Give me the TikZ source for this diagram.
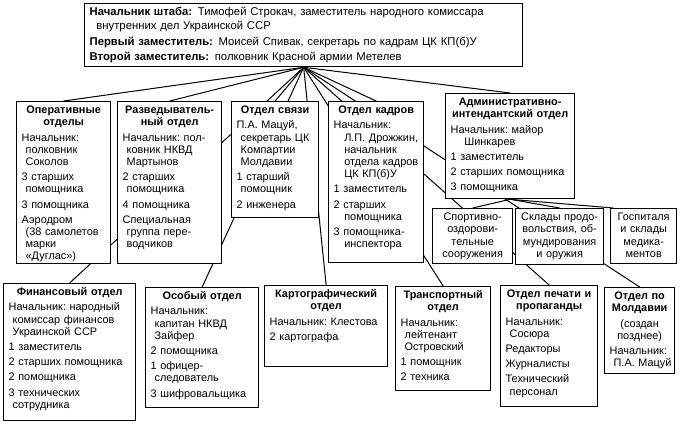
\documentclass[tikz,border=0pt]{standalone}
\usepackage{fontspec}
\setmainfont{Liberation Sans}
\usetikzlibrary{backgrounds}

\tikzset{
  dept/.style={draw, line width=1.3pt, fill=white, anchor=north west, align=left,
    inner xsep=5pt, inner ysep=3pt, text height=9pt,
    font=\fontsize{10.9}{12.2}\selectfont},
  sub/.style={dept, align=center, inner xsep=3pt},
  link/.style={line width=1pt},
}
\newcommand{\ttl}[1]{{\centering\bfseries #1\par}\vspace{3pt}}
\newcommand{\ind}[1][4pt]{\hspace*{#1}}

\begin{document}
\begin{tikzpicture}[x=1pt,y=-1pt]
        \useasboundingbox (0,0) rectangle (684,423);
        % chief of staff
        \node[dept, text width=428pt, text depth=48pt, font=\fontsize{11.3}{14}\selectfont] (top) at (84,3) {\textbf{Начальник штаба:} Тимофей Строкач, заместитель народного комиссара\\\ind[3pt] внутренних дел Украинской ССР\\[2pt]\textbf{Первый заместитель:} Моисей Спивак, секретарь по кадрам ЦК КП(б)У\\[1pt]\textbf{Второй заместитель:} полковник Красной армии Метелев};
        \coordinate (hub) at (top.south);
        % upper row
        \node[dept, text width=84pt, text depth=147pt] (oper) at (16,101) {\ttl{Оперативные\\отделы}Начальник:\\\ind полковник\\\ind Соколов\\[3pt]3~старших\\\ind помощника\\[3pt]3~помощника\\[3pt]Аэродром\\\ind (38~самолетов\\\ind марки\\\ind «Дуглас»)};
        \node[dept, text width=94pt, text depth=147pt] (razv) at (117,101) {\ttl{Разведыватель-\\ный отдел}Начальник:~пол-\\\ind ковник~НКВД\\\ind Мартынов\\[3pt]2~старших\\\ind помощника\\[3pt]4~помощника\\[3pt]Специальная\\\ind группа~пере-\\\ind водчиков};
        \node[dept, text width=77pt, text depth=101pt] (svyaz) at (231,101) {\ttl{Отдел~связи}П.А.~Мацуй,\\\ind секретарь~ЦК\\\ind Компартии\\\ind Молдавии\\[3pt]1~старший\\\ind помощник\\[3pt]2~инженера};
        \node[dept, text width=85pt, text depth=146pt] (kadry) at (328,101) {\ttl{Отдел~кадров}Начальник:\\\ind[7pt] Л.П.~Дрожжин,\\\ind[7pt] начальник\\\ind[7pt] отдела~кадров\\\ind[7pt] ЦК~КП(б)У\\[3pt]1~заместитель\\[3pt]2~старших\\\ind[7pt] помощника\\[3pt]3~помощника-\\\ind[7pt] инспектора};
        \node[dept, text width=119pt, text depth=90pt] (adm) at (445,93) {\ttl{Административно-\\интендантский~отдел}Начальник:~майор\\\ind[10pt] Шинкарев\\[3pt]1~заместитель\\[3pt]2~старших~помощника\\[3pt]3~помощника};
        \node[sub, text width=74pt, text depth=40pt] (sport) at (432,208) {Спортивно-\\оздорови-\\тельные\\сооружения};
        \node[sub, text width=82pt, text depth=41pt] (sklad) at (515,208) {Склады~продо-\\вольствия,~об-\\мундирования\\и~оружия};
        \node[sub, text width=60pt, text depth=40pt] (gosp) at (610,208) {Госпиталя\\и~склады\\медика-\\ментов};
        % lower row
        \node[dept, text width=122pt, text depth=122pt] (fin) at (3,283) {\ttl{Финансовый~отдел}Начальник:~народный\\\ind комиссар~финансов\\\ind Украинской~ССР\\[3pt]1~заместитель\\[3pt]2~старших~помощника\\[3pt]2~помощника\\[3pt]3~технических\\\ind сотрудника};
        \node[dept, text width=103pt, text depth=105pt] (osob) at (145,287) {\ttl{Особый~отдел}Начальник:\\\ind капитан~НКВД\\\ind Зайфер\\[3pt]2~помощника\\[3pt]1~офицер-\\\ind следователь\\[3pt]3~шифровальщика};
        \node[dept, text width=113pt, text depth=66pt] (kart) at (264,285) {\ttl{Картографический\\отдел}Начальник:~Клестова\\[3pt]2~картографа};
        \node[dept, text width=85pt, text depth=89pt] (trans) at (395,286) {\ttl{Транспортный\\отдел}Начальник:\\\ind лейтенант\\\ind Островский\\[3pt]1~помощник\\[3pt]2~техника};
        \node[dept, text width=87pt, text depth=106pt] (pech) at (500,285) {\ttl{Отдел~печати~и\\пропаганды}Начальник:\\\ind Сосюра\\[3pt]Редакторы\\[3pt]Журналисты\\[3pt]Технический\\\ind персонал};
        \node[dept, text width=60pt, text depth=71pt] (mold) at (604,287) {\ttl{Отдел~по\\Молдавии}{\centering (создан\\позднее)\par}\vspace{3pt}Начальник:\\\ind П.А.~Мацуй};
        % connectors, behind the boxes
        \begin{pgfonlayer}{background}
        \draw[link] (hub) -- (oper.north);
        \draw[link] (hub) -- (razv.north);
        \draw[link] (hub) -- (svyaz.north);
        \draw[link] (hub) -- (kadry.north);
        \draw[link] (hub) -- (adm.north);
        \draw[link] (hub) -- (fin.north);
        \draw[link] (hub) -- (osob.north);
        \draw[link] (hub) -- (kart.north);
        \draw[link] (hub) -- (trans.north);
        \draw[link] (hub) -- (pech.north);
        \draw[link] (hub) -- (mold.north);
        \draw[link] (adm.south) -- (sport.north);
        \draw[link] (adm.south) -- (sklad.north);
        \draw[link] (adm.south) -- ([xshift=3pt]gosp.north west);
        \end{pgfonlayer}
    \end{tikzpicture}
\end{document}
